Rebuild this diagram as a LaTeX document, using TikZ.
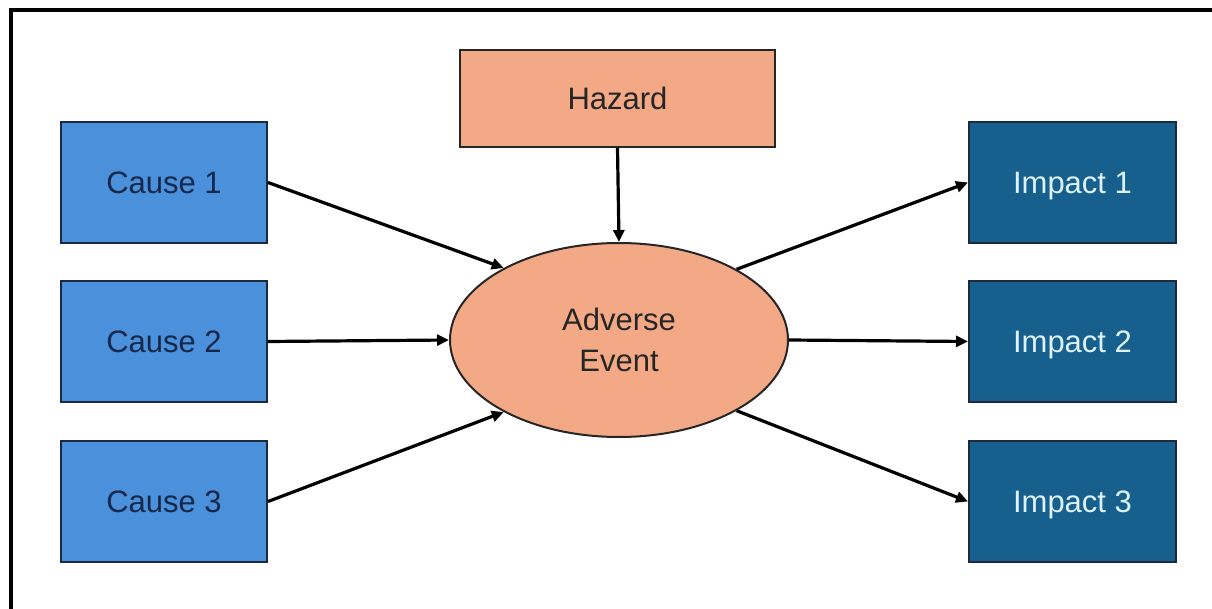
\documentclass[tikz,border=0pt]{standalone}
\usepackage{fontspec}
\setmainfont{Liberation Sans}
\usetikzlibrary{shapes.geometric,arrows.meta}
\definecolor{causeblue}{HTML}{4A90DA}
\definecolor{causetext}{HTML}{15284A}
\definecolor{salmon}{HTML}{F3A985}
\definecolor{impactblue}{HTML}{175F8C}
\definecolor{impacttext}{HTML}{DDF3FA}
\definecolor{boxline}{HTML}{1B2A40}
\tikzset{
  basebox/.style={line width=2pt, inner sep=0pt, text height=22pt, text depth=0pt, font=\fontsize{31}{37}\selectfont},
  causebox/.style={basebox, draw=boxline, fill=causeblue, minimum width=206pt, minimum height=121pt, text=causetext},
  impactbox/.style={basebox, draw=boxline, fill=impactblue, minimum width=207pt, minimum height=121pt, text=impacttext},
  hazbox/.style={basebox, draw=black!85, fill=salmon, minimum width=315pt, minimum height=97pt, text=black!85},
  eventshape/.style={ellipse, draw=black!85, line width=2pt, fill=salmon, minimum width=338pt, minimum height=194pt, inner sep=0pt, align=center, text=black!85, font=\fontsize{31}{41}\selectfont},
  link/.style={line width=3.2pt, -{Triangle[length=12pt,width=11pt]}},
}
\begin{document}
\begin{tikzpicture}[x=1pt,y=-1pt]
\useasboundingbox (0,0) rectangle (1212,609);
\fill[white] (0,0) rectangle (1212,609);
% frame (only top and left edges visible)
\coordinate (ftr) at (1212,10);
\coordinate (ftl) at (11,10);
\coordinate (fbl) at (11,609);
\draw[line width=4pt] (ftr) -- (ftl) -- (fbl);

\node[causebox] (c1) at (164,182.5) {Cause 1};
\node[causebox] (c2) at (164,341.5) {Cause 2};
\node[causebox] (c3) at (164,501.5) {Cause 3};
\node[hazbox] (hz) at (617.5,98.5) {Hazard};
\node[eventshape] (ev) at (619,340) {Adverse\\Event};
\node[impactbox] (i1) at (1072.5,182.5) {Impact 1};
\node[impactbox] (i2) at (1072.5,341.5) {Impact 2};
\node[impactbox] (i3) at (1072.5,501.5) {Impact 3};

\draw[link] (c1.east) -- (ev.148);
\draw[link] (c2.east) -- (ev.west);
\draw[link] (c3.east) -- (ev.212);
\draw[link] (hz.south) -- (ev.north);
\draw[link] (ev.31) -- (i1.west);
\draw[link] (ev.east) -- (i2.west);
\draw[link] (ev.329) -- (i3.west);
\end{tikzpicture}
\end{document}
